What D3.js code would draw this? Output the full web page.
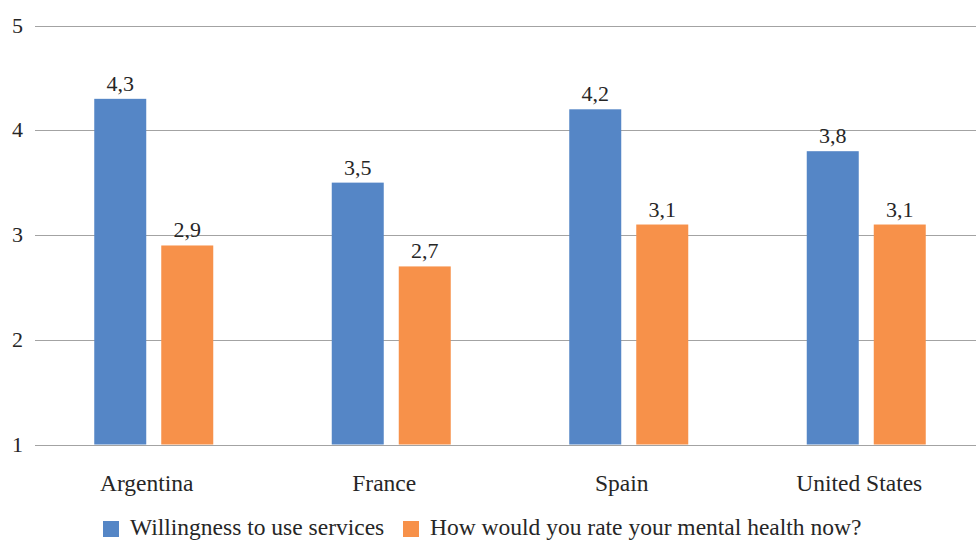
<!DOCTYPE html>
<html>
<head>
<meta charset="utf-8">
<script src="https://cdn.jsdelivr.net/npm/d3@7"></script>
</head>
<body style="margin:0">
<svg class="chart" width="976" height="541"></svg>
<script>
var categories = ["Argentina", "France", "Spain", "United States"];
var seriesNames = ["Willingness to use services", "How would you rate your mental health now?"];
var willingness = [4.3, 3.5, 4.2, 3.8];
var mentalHealth = [2.9, 2.7, 3.1, 3.1];
var yTicks = [1, 2, 3, 4, 5];

var colors = ["#5586c6", "#f7914a"];
var ink = "#262626";
var font = "'Liberation Serif'";

var svg = d3.select(".chart"),
    width = +svg.attr("width"),
    height = +svg.attr("height");

var plot = {left: 35, right: 985, top: 25.5, bottom: 444.5};

var y = d3.scaleLinear().domain([1, 5]).range([plot.bottom, plot.top]);
var x0 = d3.scaleBand().domain(categories).range([plot.left, plot.right]);
var x1 = d3.scaleBand().domain(seriesNames)
    .range([x0.bandwidth() / 2 - 59.5, x0.bandwidth() / 2 + 59.5])
    .paddingInner(0.224);

function comma(v) { return d3.format(".1f")(v).replace(".", ","); }

var rows = categories.map(function(c, i) {
  return {cat: c, values: [willingness[i], mentalHealth[i]]};
});

// grid lines + tick labels
svg.append("g").selectAll("line")
  .data(yTicks)
  .enter().append("line")
    .attr("x1", plot.left)
    .attr("x2", width)
    .attr("y1", function(d) { return Math.round(y(d)) + 0.5; })
    .attr("y2", function(d) { return Math.round(y(d)) + 0.5; })
    .attr("stroke", "#a3a3a3")
    .attr("stroke-width", 1);

svg.selectAll(".tick-label")
  .data(yTicks)
  .enter().append("text")
    .attr("class", "tick-label")
    .attr("x", 23)
    .attr("y", function(d) { return y(d) + 7; })
    .attr("text-anchor", "end")
    .style("font-family", font)
    .style("font-size", "22px")
    .style("fill", ink)
    .text(function(d) { return d; });

// bars
var bars = [];
rows.forEach(function(r) {
  r.values.forEach(function(v, i) { bars.push({cat: r.cat, name: seriesNames[i], value: v, i: i}); });
});

svg.selectAll("rect.bar")
  .data(bars)
  .enter().append("rect")
    .attr("class", "bar")
    .attr("x", function(d) { return x0(d.cat) + x1(d.name); })
    .attr("width", x1.bandwidth())
    .attr("y", function(d) { return y(d.value); })
    .attr("height", function(d) { return y(1) - y(d.value); })
    .attr("fill", function(d) { return colors[d.i]; });

svg.selectAll(".val")
  .data(bars)
  .enter().append("text")
    .attr("class", "val")
    .attr("x", function(d) { return x0(d.cat) + x1(d.name) + x1.bandwidth() / 2; })
    .attr("y", function(d) { return y(d.value) - 8; })
    .attr("text-anchor", "middle")
    .style("font-family", font)
    .style("font-size", "22px")
    .style("fill", ink)
    .text(function(d) { return comma(d.value); });

// category labels
svg.selectAll(".cat-label")
  .data(categories)
  .enter().append("text")
    .attr("class", "cat-label")
    .attr("x", function(d) { return x0(d) + x0.bandwidth() / 2 - 7; })
    .attr("y", 491)
    .attr("text-anchor", "middle")
    .style("font-family", font)
    .style("font-size", "23.5px")
    .style("fill", ink)
    .text(function(d) { return d; });

// legend
var legendX = [103, 403];
svg.selectAll(".leg-box")
  .data(seriesNames)
  .enter().append("rect")
    .attr("class", "leg-box")
    .attr("x", function(d, i) { return legendX[i]; })
    .attr("y", 521)
    .attr("width", 16)
    .attr("height", 16)
    .attr("fill", function(d, i) { return colors[i]; });

svg.selectAll(".leg-text")
  .data(seriesNames)
  .enter().append("text")
    .attr("class", "leg-text")
    .attr("x", function(d, i) { return legendX[i] + 27; })
    .attr("y", 535)
    .style("font-family", font)
    .style("font-size", "23.5px")
    .style("fill", ink)
    .text(function(d) { return d; });
</script>
</body>
</html>
